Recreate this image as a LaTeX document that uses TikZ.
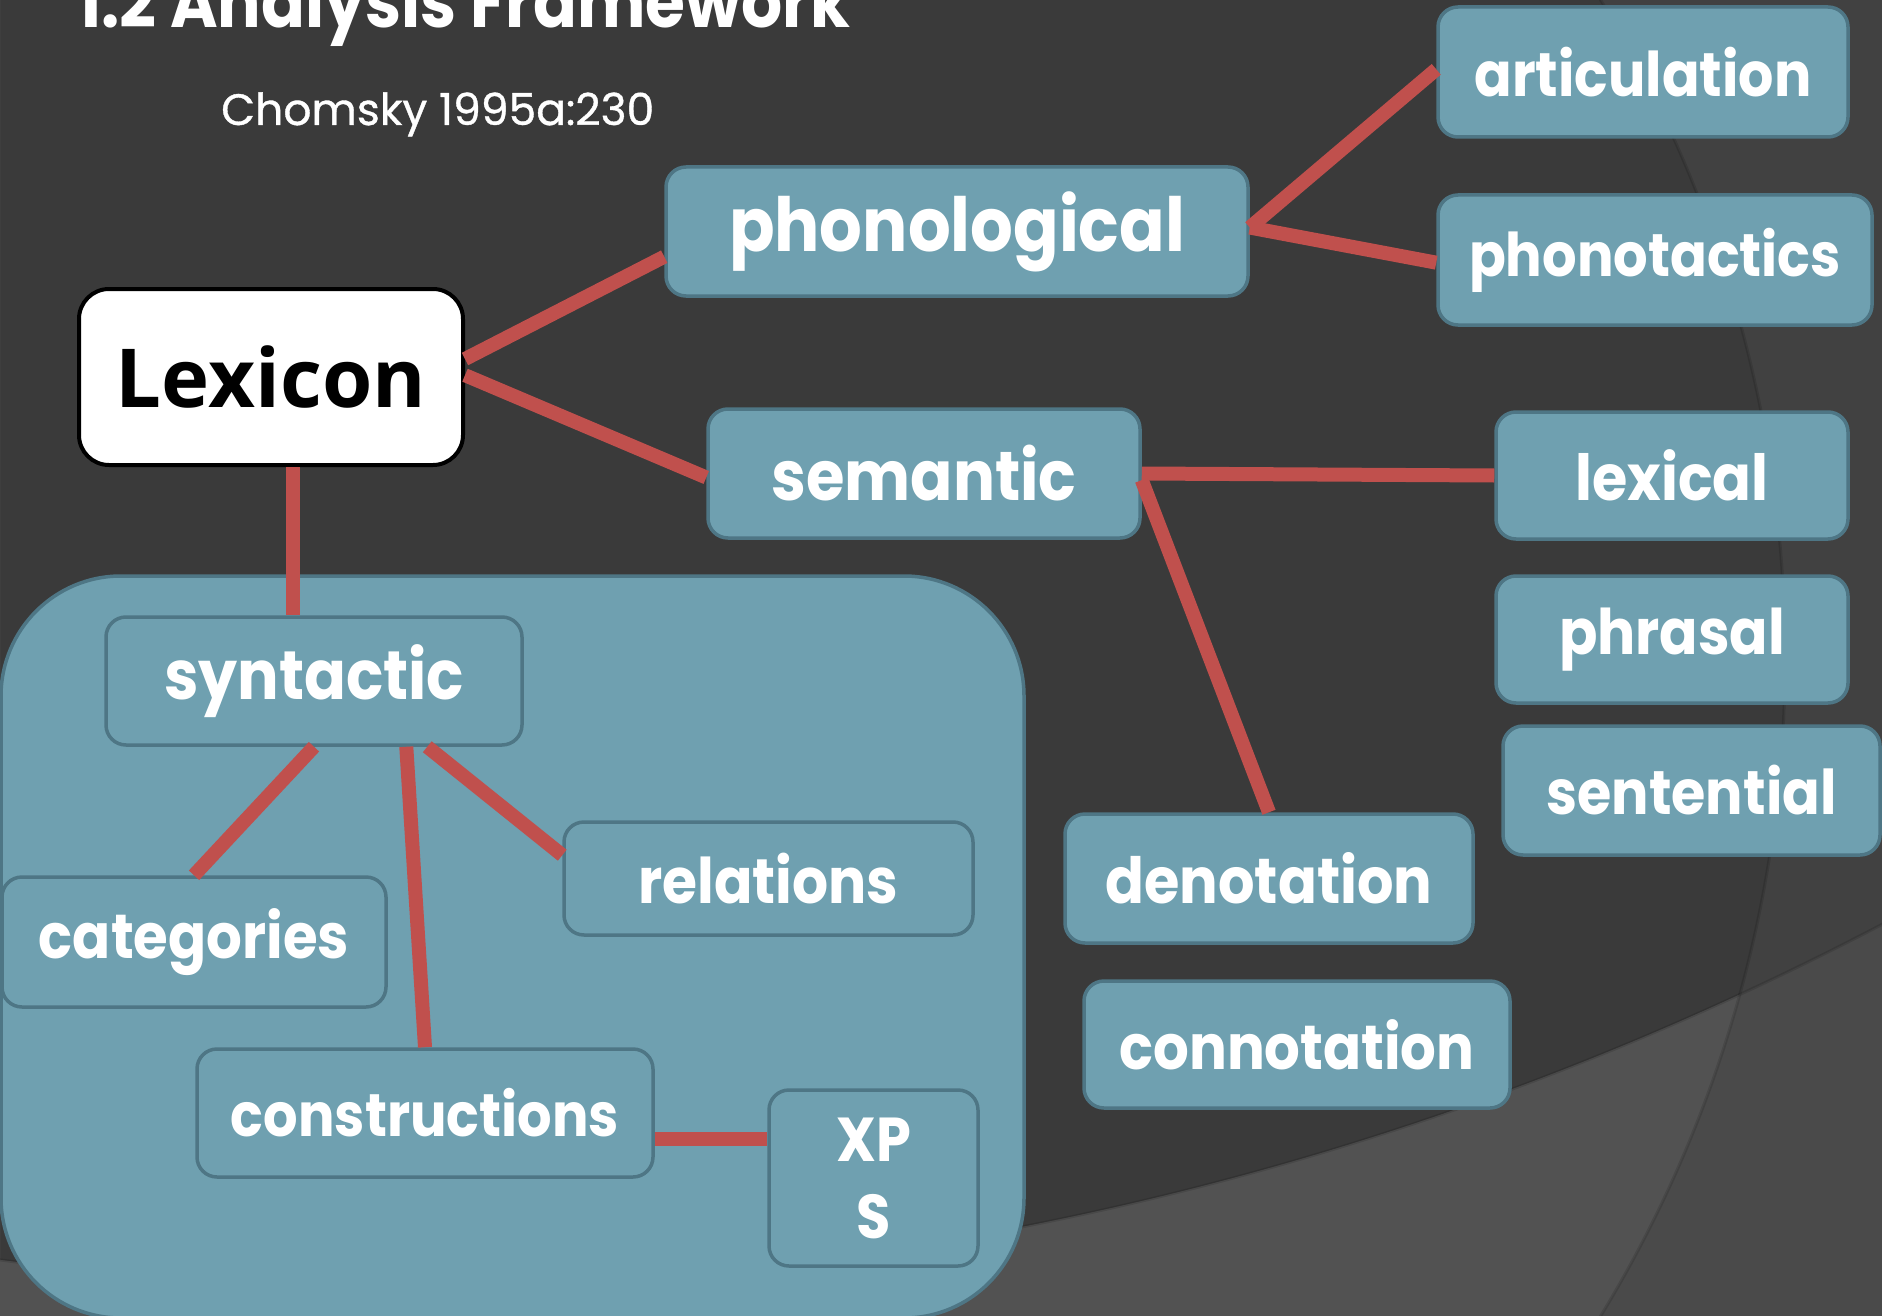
\documentclass[tikz,border=0pt]{standalone}
\usepackage{fontspec}
\usepackage{graphicx}
\usetikzlibrary{calc}
\newfontfamily\geofont[FakeStretch=0.9]{Poppins}
\newfontfamily\plainfont[FakeBold=0.8]{Poppins}
\newfontfamily\lexfont{Open Sans}
\definecolor{bgdark}{HTML}{3A3A3A}
\definecolor{bgright}{HTML}{414141}
\definecolor{bglow}{HTML}{525252}
\definecolor{bgcorner}{HTML}{4A4A4A}
\definecolor{boxfill}{HTML}{6FA0B0}
\definecolor{boxline}{HTML}{4E7685}
\definecolor{linkred}{HTML}{C0504D}
% label fitted to a given width (in pt)
\newcommand{\boxlabel}[2]{\resizebox{#1pt}{!}{\geofont\bfseries\fontsize{60}{72}\selectfont #2}}

\begin{document}
\begin{tikzpicture}[x=1pt,y=-1pt,
  tbox/.style={draw=boxline, fill=boxfill, line width=3.5pt, rounded corners=20pt, inner sep=0pt, text=white},
  link/.style={draw=linkred, line width=14pt}]
\clip (0,0) rectangle (1882,1316);

% background with two large arcs
\fill[bgdark] (0,0) rectangle (1882,1316);
\fill[bgright, even odd rule] (0,0) rectangle (1882,1316) (520,658) circle (1265pt);
\fill[bgcorner, even odd rule] (0,0) rectangle (1882,1316) (409,-1889) circle (3175pt);
\begin{scope}
  \clip (520,658) circle (1265pt);
  \fill[bglow, even odd rule] (0,0) rectangle (1882,1316) (409,-1889) circle (3175pt);
\end{scope}
\draw[black, opacity=0.12, line width=3pt] (520,658) circle (1265pt);
\draw[black, opacity=0.12, line width=3pt] (409,-1889) circle (3175pt);

% headings
\node[anchor=base west, inner sep=0pt, text=white] (title) at (77,28)
  {\resizebox{773pt}{!}{\geofont\bfseries\fontsize{60}{72}\selectfont 1.2 Analysis Framework}};
\node[anchor=base west, inner sep=0pt, text=white] (source) at (221,125)
  {\resizebox{433pt}{!}{\plainfont\fontsize{40}{48}\selectfont Chomsky 1995a:230}};

% syntactic area
\node[tbox, minimum width=1023pt, minimum height=742pt, rounded corners=120pt] (area) at (512.5,947) {};

% nodes
\node[draw=black, fill=white, line width=4pt, rounded corners=30pt, inner sep=0pt,
      minimum width=384pt, minimum height=176pt] (lex) at (271,377)
  {\resizebox{310pt}{!}{\lexfont\bfseries\fontsize{60}{72}\selectfont Lexicon}};
\node[tbox, minimum width=582pt, minimum height=129pt] (phon) at (957,231.5) {\boxlabel{456}{phonological}};
\node[tbox, minimum width=410pt, minimum height=130pt] (artic) at (1643,72) {\boxlabel{337}{articulation}};
\node[tbox, minimum width=434pt, minimum height=130pt] (phontac) at (1655,260) {\boxlabel{372}{phonotactics}};
\node[tbox, minimum width=432pt, minimum height=129pt] (sem) at (924,473.5) {\boxlabel{305}{semantic}};
\node[tbox, minimum width=352pt, minimum height=127pt] (lexical) at (1672,475.5) {\boxlabel{193}{lexical}};
\node[tbox, minimum width=352pt, minimum height=127pt] (phrasal) at (1672,639.5) {\boxlabel{226}{phrasal}};
\node[tbox, minimum width=377pt, minimum height=129pt] (sentential) at (1691.5,790.5) {\boxlabel{290}{sentential}};
\node[tbox, minimum width=408pt, minimum height=129pt] (denot) at (1269,878.5) {\boxlabel{327}{denotation}};
\node[tbox, minimum width=426pt, minimum height=127pt] (connot) at (1297,1044.5) {\boxlabel{355}{connotation}};
\node[tbox, minimum width=416pt, minimum height=128pt] (syn) at (314,681) {\boxlabel{300}{syntactic}};
\node[tbox, minimum width=384pt, minimum height=130pt] (cat) at (194,942) {\boxlabel{310}{categories}};
\node[tbox, minimum width=409pt, minimum height=113pt] (rel) at (768.5,878.5) {\boxlabel{260}{relations}};
\node[tbox, minimum width=456pt, minimum height=128pt] (cons) at (425,1113) {\boxlabel{388}{constructions}};
\node[tbox, minimum width=209pt, minimum height=176pt, align=center,
      font={\geofont\bfseries\fontsize{62}{77}\selectfont}] (xps) at (873.5,1178) {XP\\S};

% connectors
\draw[link] ($(lex.north east)!0.40!(lex.south east)$) -- ($(phon.north west)!0.69!(phon.south west)$);
\draw[link] ($(lex.north east)!0.49!(lex.south east)$) -- ($(sem.north west)!0.53!(sem.south west)$);
\draw[link] ($(phon.north east)!0.47!(phon.south east)$) -- ($(artic.north west)!0.48!(artic.south west)$);
\draw[link] ($(phon.north east)!0.47!(phon.south east)$) -- ($(phontac.north west)!0.52!(phontac.south west)$);
\draw[link] (sem.east) -- (lexical.west);
\draw[link] ($(sem.north east)!0.55!(sem.south east)$) -- (denot.north);
\coordinate (lexfoot) at ($(lex.south west)!0.557!(lex.south east)$);
\draw[link] (lexfoot) -- (lexfoot |- syn.north);
\draw[link] (syn.south) -- (cat.north);
\draw[link] ($(syn.south west)!0.72!(syn.south east)$) -- (cons.north);
\draw[link] ($(syn.south west)!0.77!(syn.south east)$) -- ($(rel.north west)!0.30!(rel.south west)$);
\coordinate (consjoin) at ($(cons.north east)!0.695!(cons.south east)$);
\draw[link] (consjoin) -- (consjoin -| xps.west);
\end{tikzpicture}
\end{document}
